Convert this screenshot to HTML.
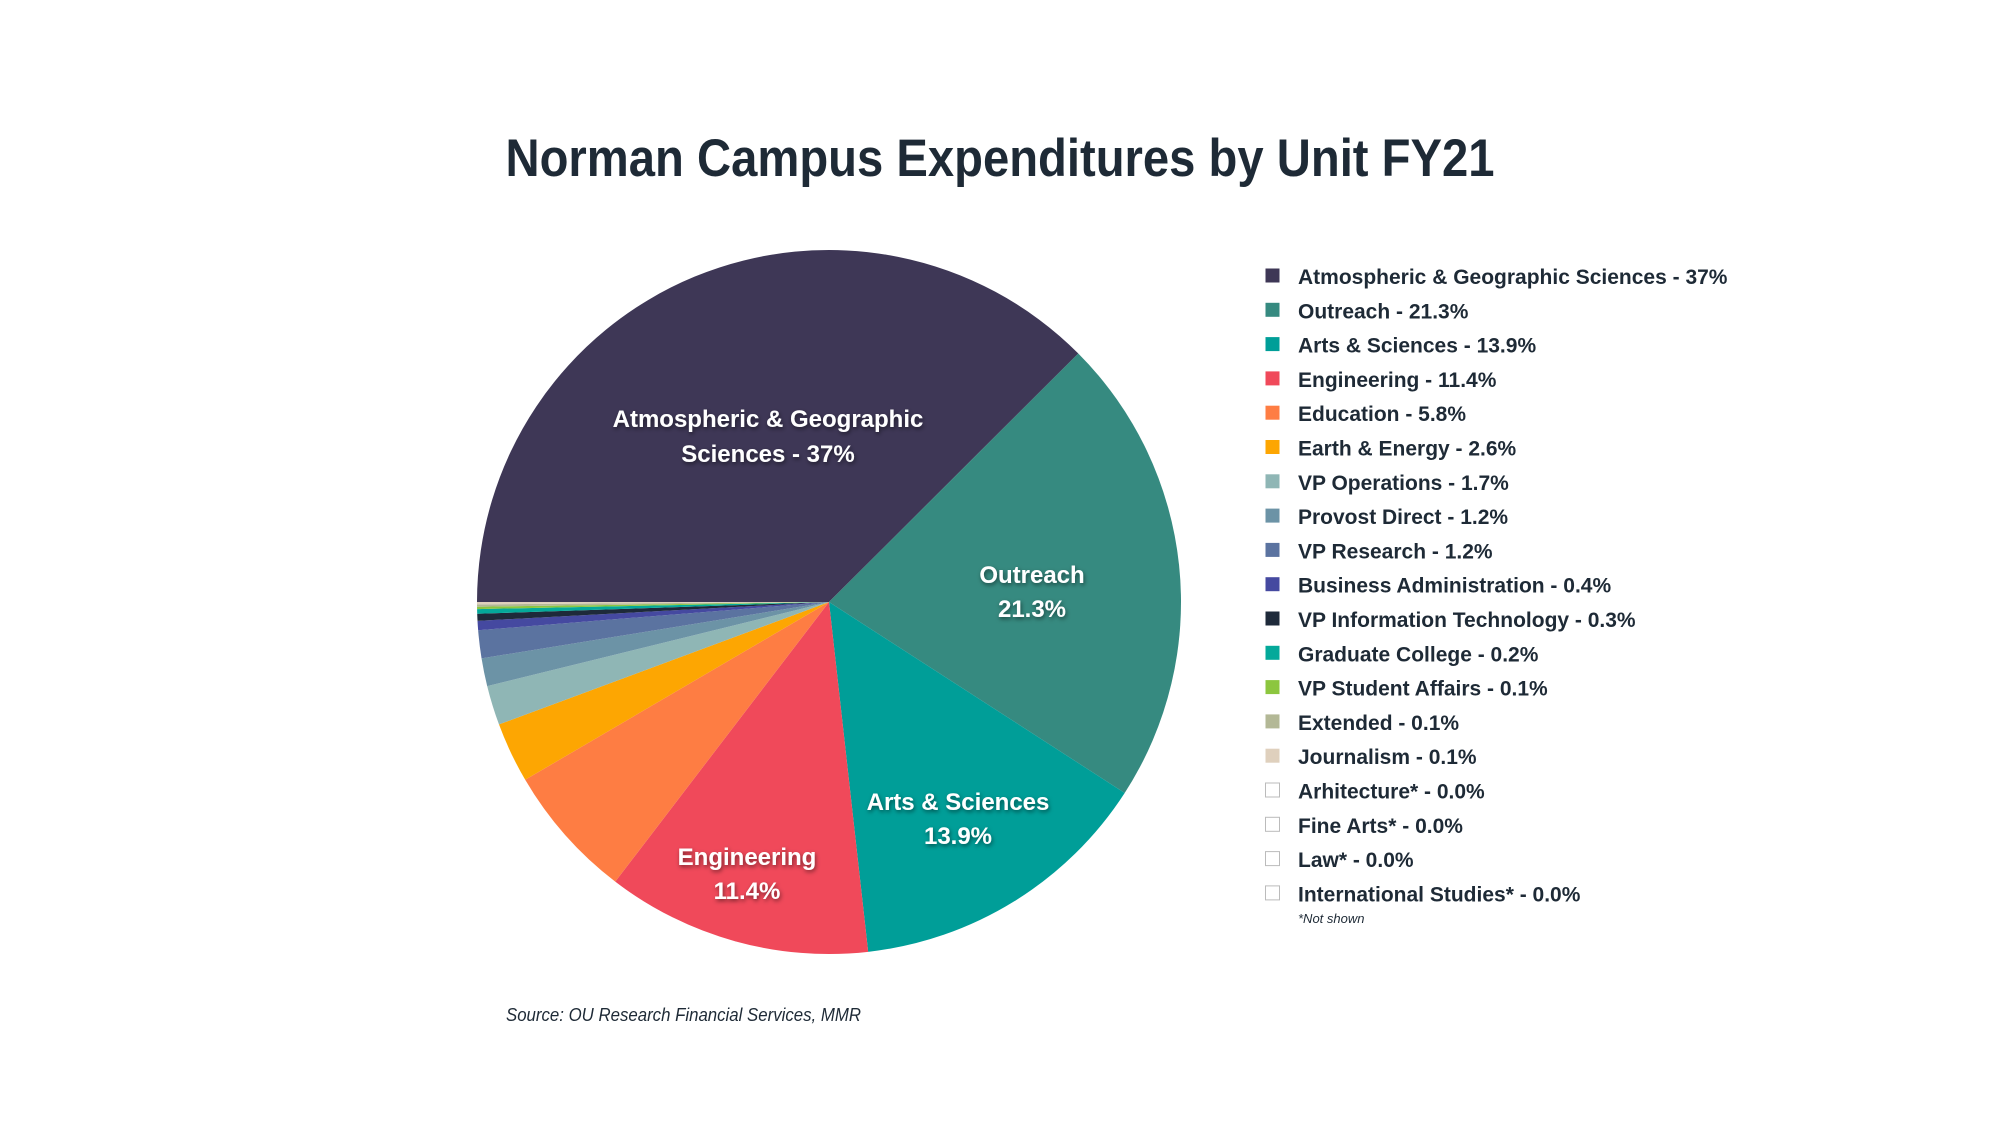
<!DOCTYPE html>
<html><head><meta charset="utf-8"><style>
html,body{margin:0;padding:0;background:#fff;}
svg{display:block;}
text{font-family:"Liberation Sans",sans-serif;}
</style></head><body>
<svg id="s" width="2000" height="1126" viewBox="0 0 2000 1126">
<defs><filter id="sh" x="-20%" y="-20%" width="140%" height="140%"><feDropShadow dx="1" dy="2" stdDeviation="2" flood-color="#000" flood-opacity="0.5"/></filter></defs>
<text x="1000" y="176" text-anchor="middle" font-size="53" font-weight="bold" fill="#1e2a36" textLength="989" lengthAdjust="spacingAndGlyphs">Norman Campus Expenditures by Unit FY21</text>
<g id="pie"></g>
<g fill="#fff" font-size="24" font-weight="bold" text-anchor="middle" filter="url(#sh)">
<text x="768" y="427">Atmospheric &amp; Geographic</text>
<text x="768" y="462">Sciences - 37%</text>
<text x="1032" y="583">Outreach</text>
<text x="1032" y="617">21.3%</text>
<text x="958" y="810">Arts &amp; Sciences</text>
<text x="958" y="844">13.9%</text>
<text x="747" y="865">Engineering</text>
<text x="747" y="899">11.4%</text>
</g>
<g id="leg" font-size="21" font-weight="bold" fill="#1e2a36"></g>
<text x="1298" y="923" font-size="13" font-style="italic" fill="#1e2a36">*Not shown</text>
<text x="506" y="1021" font-size="18" font-style="italic" fill="#1e2a36" textLength="355" lengthAdjust="spacingAndGlyphs">Source: OU Research Financial Services, MMR</text>
</svg>
<script>
var d=[["Atmospheric & Geographic Sciences - 37%",37,"#3e3756"],["Outreach - 21.3%",21.3,"#368a80"],["Arts & Sciences - 13.9%",13.9,"#009e98"],["Engineering - 11.4%",11.4,"#f0495a"],["Education - 5.8%",5.8,"#fe7d43"],["Earth & Energy - 2.6%",2.6,"#fda602"],["VP Operations - 1.7%",1.7,"#8fb6b5"],["Provost Direct - 1.2%",1.2,"#6c93a6"],["VP Research - 1.2%",1.2,"#5b73a0"],["Business Administration - 0.4%",0.4,"#4549a0"],["VP Information Technology - 0.3%",0.3,"#1e2a3a"],["Graduate College - 0.2%",0.2,"#04a99a"],["VP Student Affairs - 0.1%",0.1,"#8cc63f"],["Extended - 0.1%",0.1,"#b3b896"],["Journalism - 0.1%",0.1,"#dfd0bd"],["Arhitecture* - 0.0%",0,null],["Fine Arts* - 0.0%",0,null],["Law* - 0.0%",0,null],["International Studies* - 0.0%",0,null]];
var big=98.6,rest=0;for(var i=4;i<d.length;i++)rest+=d[i][1];
var remAng=2*Math.PI*(1-(37+21.3+13.9)/big);
var cx=829,cy=602,r=352,a=Math.PI,ns="http://www.w3.org/2000/svg",pie=document.getElementById("pie"),leg=document.getElementById("leg");
var restTot=11.4+rest;
d.forEach(function(e,i){
 if(e[1]>0){var ang=i<3?e[1]/big*2*Math.PI:e[1]/restTot*remAng;var b=a+ang;
  var p=document.createElementNS(ns,"path");
  var x1=cx+r*Math.cos(a),y1=cy+r*Math.sin(a),x2=cx+r*Math.cos(b),y2=cy+r*Math.sin(b);
  p.setAttribute("d","M"+cx+","+cy+"L"+x1+","+y1+"A"+r+","+r+" 0 "+((b-a)>Math.PI?1:0)+" 1 "+x2+","+y2+"Z");
  p.setAttribute("fill",e[2]);pie.appendChild(p);a=b;}
 var y=276+i*34.3;
 var q=document.createElementNS(ns,"rect");
 q.setAttribute("x",1265.5);q.setAttribute("y",y-7.5);q.setAttribute("width",14);q.setAttribute("height",14);
 if(e[2]){q.setAttribute("fill",e[2]);}else{q.setAttribute("fill","#fff");q.setAttribute("stroke","#bbb");q.setAttribute("stroke-width","1");}
 leg.appendChild(q);
 var t=document.createElementNS(ns,"text");t.setAttribute("x",1298);t.setAttribute("y",y+8);t.textContent=e[0];leg.appendChild(t);
});
</script>
</body></html>
